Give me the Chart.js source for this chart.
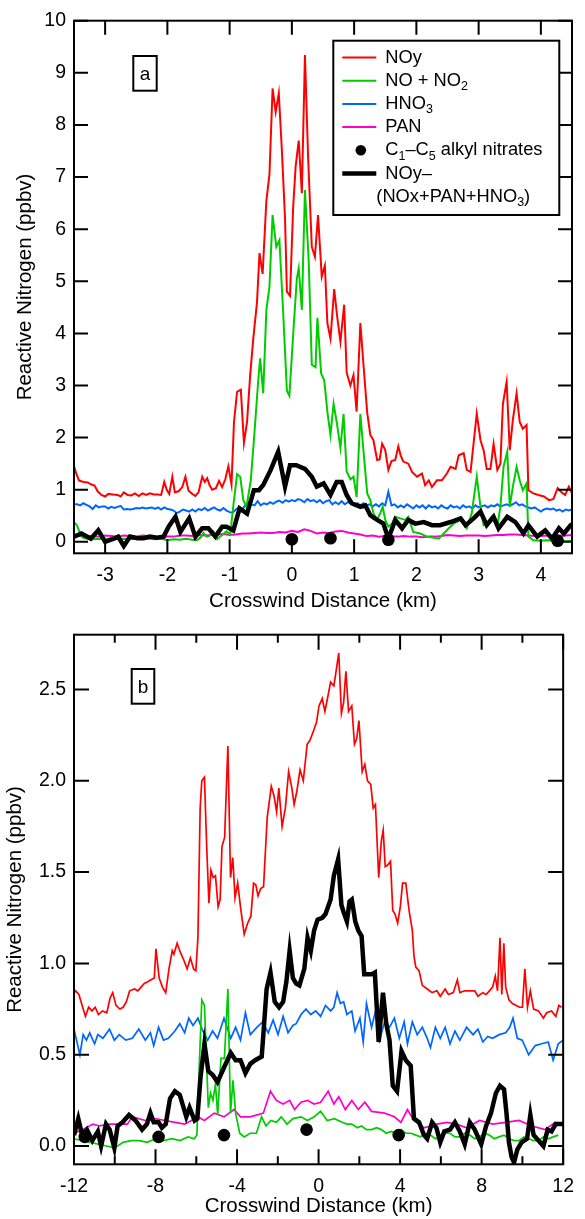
<!DOCTYPE html>
<html>
<head>
<meta charset="utf-8">
<script src="https://cdn.jsdelivr.net/npm/chart.js@4.4.1/dist/chart.umd.min.js"></script>
<style>
  body { margin: 0; background: #fff; }
  .panel { position: absolute; left: 0; width: 585px; }
</style>
</head>
<body>
<div class="panel" style="top:0;height:615px"><canvas id="panelA"></canvas></div>
<div class="panel" style="top:615px;height:604px"><canvas id="panelB"></canvas></div>
<script>
const FONT = "'Liberation Sans', Arial, sans-serif";
const RED = '#ff0000', GREEN = '#00cc00', BLUE = '#0066ff', PINK = '#ff00cc', BLACK = '#000000';

// ---------- panel a : crosswind distance (km), mixing ratio (ppbv) ----------
const aNOy = [[-3.50,1.45],[-3.46,1.30],[-3.42,1.18],[-3.35,1.15],[-3.28,1.14],[-3.22,1.10],[-3.17,1.08],[-3.12,0.97],[-3.06,0.90],[-3.00,0.87],[-2.95,0.92],[-2.88,0.91],[-2.80,0.90],[-2.75,0.87],[-2.70,0.95],[-2.64,0.90],[-2.58,0.89],[-2.52,0.93],[-2.46,0.88],[-2.40,0.93],[-2.34,0.90],[-2.28,0.93],[-2.22,0.91],[-2.15,0.91],[-2.10,0.90],[-2.05,1.15],[-2.01,1.00],[-1.97,0.92],[-1.92,1.25],[-1.88,0.95],[-1.82,0.97],[-1.76,1.05],[-1.71,1.25],[-1.66,0.98],[-1.60,0.92],[-1.55,0.88],[-1.50,0.95],[-1.44,1.25],[-1.40,1.15],[-1.36,1.22],[-1.32,1.08],[-1.28,1.00],[-1.22,1.03],[-1.17,1.17],[-1.12,1.05],[-1.07,1.20],[-1.02,1.45],[-0.97,1.10],[-0.93,2.30],[-0.88,2.88],[-0.82,2.92],[-0.77,1.90],[-0.72,2.30],[-0.67,3.20],[-0.62,3.90],[-0.56,4.60],[-0.52,5.54],[-0.47,5.14],[-0.41,6.54],[-0.36,7.05],[-0.31,8.70],[-0.26,8.25],[-0.21,8.61],[-0.16,7.50],[-0.11,6.20],[-0.08,4.80],[-0.03,4.72],[0.02,6.40],[0.06,7.20],[0.11,7.70],[0.16,6.69],[0.21,9.34],[0.26,7.40],[0.32,5.66],[0.37,5.47],[0.42,6.27],[0.48,5.09],[0.53,5.30],[0.57,4.20],[0.62,3.90],[0.68,4.85],[0.73,4.30],[0.78,3.84],[0.84,4.55],[0.88,3.25],[0.94,3.00],[0.99,3.20],[1.04,2.50],[1.10,4.20],[1.15,3.40],[1.21,2.48],[1.26,2.05],[1.31,1.95],[1.37,1.57],[1.41,1.58],[1.45,1.88],[1.50,1.76],[1.55,1.38],[1.60,1.55],[1.66,1.57],[1.71,1.83],[1.75,1.65],[1.79,1.54],[1.87,1.50],[1.93,1.34],[2.01,1.25],[2.09,1.31],[2.14,1.09],[2.20,1.18],[2.25,1.05],[2.33,1.18],[2.41,1.18],[2.49,1.31],[2.55,1.44],[2.63,1.40],[2.68,1.66],[2.76,1.70],[2.81,1.38],[2.87,1.34],[2.97,2.46],[3.03,1.95],[3.08,1.76],[3.13,1.40],[3.19,1.40],[3.24,1.88],[3.30,1.38],[3.35,1.50],[3.39,2.65],[3.45,3.07],[3.50,1.76],[3.55,2.34],[3.61,2.85],[3.66,2.30],[3.71,2.17],[3.77,2.24],[3.80,0.99],[3.88,0.93],[3.96,0.90],[4.05,0.87],[4.13,0.80],[4.20,0.82],[4.27,1.03],[4.33,0.95],[4.39,0.90],[4.45,1.06],[4.50,0.93]];

const aNOx = [[-3.50,0.37],[-3.46,0.33],[-3.42,0.22],[-3.38,0.10],[-3.33,0.07],[-3.28,0.06],[-3.20,0.05],[-3.10,0.06],[-3.00,0.05],[-2.90,0.07],[-2.80,0.05],[-2.70,0.06],[-2.60,0.05],[-2.50,0.06],[-2.40,0.07],[-2.30,0.06],[-2.20,0.05],[-2.10,0.06],[-2.00,0.03],[-1.90,0.05],[-1.80,0.04],[-1.70,0.06],[-1.60,0.04],[-1.53,0.03],[-1.47,0.08],[-1.42,0.17],[-1.37,0.10],[-1.32,0.12],[-1.26,0.20],[-1.20,0.05],[-1.13,0.12],[-1.05,0.20],[-0.99,0.14],[-0.94,0.70],[-0.88,1.30],[-0.83,1.25],[-0.78,0.80],[-0.73,0.67],[-0.66,1.18],[-0.61,1.95],[-0.54,3.10],[-0.51,3.52],[-0.46,2.85],[-0.41,4.45],[-0.36,4.89],[-0.31,6.27],[-0.25,5.66],[-0.20,5.79],[-0.14,4.40],[-0.08,2.90],[-0.04,2.80],[0.03,4.15],[0.08,5.05],[0.11,5.25],[0.16,4.45],[0.21,6.75],[0.27,5.40],[0.32,3.40],[0.38,3.35],[0.41,4.30],[0.47,3.23],[0.52,3.10],[0.57,2.50],[0.62,2.05],[0.67,2.65],[0.72,2.30],[0.78,1.80],[0.83,2.45],[0.88,1.35],[0.94,1.20],[0.99,1.25],[1.04,0.86],[1.10,2.45],[1.15,1.75],[1.21,0.93],[1.26,0.80],[1.31,0.55],[1.37,0.42],[1.42,0.55],[1.46,0.67],[1.50,0.42],[1.55,0.29],[1.61,0.35],[1.66,0.48],[1.74,0.45],[1.82,0.42],[1.87,0.48],[1.95,0.19],[2.06,0.16],[2.17,0.10],[2.28,0.08],[2.36,0.06],[2.44,0.16],[2.52,0.26],[2.60,0.35],[2.71,0.42],[2.81,0.26],[2.89,0.55],[2.97,1.25],[3.03,0.67],[3.08,0.32],[3.13,0.35],[3.21,0.48],[3.30,0.29],[3.35,0.67],[3.40,1.44],[3.46,1.73],[3.50,0.67],[3.55,1.06],[3.61,1.44],[3.66,1.18],[3.71,0.99],[3.77,1.12],[3.80,0.10],[3.88,0.03],[3.99,0.02],[4.10,0.03],[4.20,0.02],[4.30,0.03],[4.40,0.01],[4.50,0.02]];

const aHNO3 = [[-3.50,0.72],[-3.45,0.72],[-3.40,0.70],[-3.35,0.74],[-3.30,0.71],[-3.25,0.68],[-3.20,0.63],[-3.15,0.70],[-3.10,0.66],[-3.05,0.68],[-3.00,0.68],[-2.95,0.64],[-2.90,0.67],[-2.85,0.65],[-2.80,0.67],[-2.75,0.69],[-2.70,0.62],[-2.65,0.63],[-2.60,0.62],[-2.55,0.63],[-2.50,0.65],[-2.45,0.64],[-2.40,0.66],[-2.35,0.64],[-2.30,0.65],[-2.25,0.66],[-2.20,0.63],[-2.15,0.66],[-2.10,0.62],[-2.05,0.66],[-2.00,0.63],[-1.95,0.62],[-1.90,0.60],[-1.85,0.55],[-1.80,0.58],[-1.75,0.62],[-1.70,0.60],[-1.65,0.58],[-1.60,0.62],[-1.55,0.58],[-1.50,0.63],[-1.45,0.61],[-1.40,0.65],[-1.35,0.60],[-1.30,0.63],[-1.25,0.66],[-1.20,0.62],[-1.15,0.60],[-1.10,0.65],[-1.05,0.60],[-1.00,0.57],[-0.95,0.56],[-0.90,0.62],[-0.85,0.66],[-0.80,0.62],[-0.75,0.70],[-0.70,0.66],[-0.65,0.72],[-0.60,0.70],[-0.55,0.78],[-0.50,0.70],[-0.45,0.74],[-0.40,0.72],[-0.35,0.76],[-0.30,0.73],[-0.25,0.77],[-0.20,0.79],[-0.15,0.75],[-0.10,0.80],[-0.05,0.77],[0.00,0.80],[0.05,0.78],[0.10,0.82],[0.15,0.80],[0.20,0.76],[0.25,0.82],[0.30,0.78],[0.35,0.80],[0.40,0.76],[0.45,0.80],[0.50,0.74],[0.55,0.78],[0.60,0.80],[0.65,0.72],[0.70,0.76],[0.75,0.72],[0.80,0.78],[0.85,0.72],[0.90,0.76],[0.95,0.74],[1.00,0.70],[1.05,0.74],[1.10,0.70],[1.15,0.74],[1.20,0.70],[1.25,0.72],[1.30,0.68],[1.35,0.72],[1.40,0.68],[1.45,0.74],[1.50,0.70],[1.55,0.96],[1.60,0.70],[1.65,0.72],[1.70,0.66],[1.75,0.70],[1.80,0.66],[1.85,0.72],[1.90,0.68],[1.95,0.64],[2.00,0.70],[2.05,0.66],[2.10,0.70],[2.15,0.64],[2.20,0.70],[2.25,0.66],[2.30,0.68],[2.35,0.64],[2.40,0.70],[2.45,0.66],[2.50,0.64],[2.55,0.70],[2.60,0.66],[2.65,0.68],[2.70,0.64],[2.75,0.70],[2.80,0.66],[2.85,0.68],[2.90,0.64],[2.95,0.70],[3.00,0.66],[3.05,0.68],[3.10,0.70],[3.15,0.66],[3.20,0.70],[3.25,0.68],[3.30,0.72],[3.35,0.68],[3.40,0.70],[3.45,0.72],[3.50,0.70],[3.55,0.72],[3.60,0.76],[3.65,0.70],[3.70,0.72],[3.75,0.68],[3.80,0.66],[3.85,0.64],[3.90,0.66],[3.95,0.62],[4.00,0.58],[4.05,0.62],[4.10,0.64],[4.15,0.62],[4.20,0.64],[4.25,0.60],[4.30,0.62],[4.35,0.58],[4.40,0.62],[4.45,0.60],[4.50,0.62]];

const aPAN = [[-3.5,0.10],[-3.4,0.11],[-3.3,0.12],[-3.2,0.10],[-3.1,0.10],[-3.0,0.12],[-2.9,0.11],[-2.8,0.10],[-2.7,0.12],[-2.6,0.11],[-2.5,0.10],[-2.4,0.12],[-2.3,0.11],[-2.2,0.10],[-2.1,0.09],[-2.0,0.10],[-1.9,0.10],[-1.8,0.12],[-1.7,0.12],[-1.6,0.11],[-1.5,0.13],[-1.4,0.12],[-1.3,0.13],[-1.2,0.14],[-1.1,0.15],[-1.0,0.13],[-0.9,0.14],[-0.8,0.16],[-0.7,0.16],[-0.6,0.17],[-0.5,0.18],[-0.4,0.17],[-0.3,0.17],[-0.2,0.19],[-0.1,0.18],[0.0,0.21],[0.1,0.19],[0.2,0.24],[0.3,0.21],[0.4,0.16],[0.5,0.18],[0.6,0.17],[0.7,0.20],[0.8,0.21],[0.9,0.18],[1.0,0.16],[1.1,0.14],[1.2,0.11],[1.3,0.12],[1.4,0.10],[1.5,0.11],[1.6,0.10],[1.7,0.10],[1.8,0.11],[1.9,0.10],[2.0,0.10],[2.1,0.09],[2.2,0.10],[2.3,0.10],[2.4,0.11],[2.5,0.13],[2.6,0.12],[2.7,0.11],[2.8,0.12],[2.9,0.12],[3.0,0.12],[3.1,0.11],[3.2,0.12],[3.3,0.13],[3.4,0.13],[3.5,0.14],[3.6,0.14],[3.7,0.13],[3.8,0.12],[3.9,0.11],[4.0,0.11],[4.1,0.12],[4.2,0.11],[4.3,0.12],[4.4,0.12],[4.5,0.13]];

const aResid = [[-3.50,0.10],[-3.38,0.16],[-3.23,0.06],[-3.11,0.22],[-3.00,0.00],[-2.86,0.06],[-2.79,0.10],[-2.70,-0.08],[-2.60,0.10],[-2.48,0.07],[-2.38,0.07],[-2.28,0.10],[-2.17,0.08],[-2.06,0.10],[-1.98,0.29],[-1.87,0.48],[-1.79,0.19],[-1.65,0.45],[-1.55,0.10],[-1.44,0.26],[-1.34,0.26],[-1.23,0.10],[-1.12,0.29],[-1.05,0.29],[-0.94,0.22],[-0.84,0.64],[-0.72,0.54],[-0.61,0.99],[-0.53,0.99],[-0.46,1.09],[-0.34,1.38],[-0.22,1.73],[-0.11,1.06],[-0.03,1.47],[0.07,1.47],[0.21,1.40],[0.32,1.25],[0.40,1.06],[0.51,1.12],[0.62,0.90],[0.72,1.15],[0.80,1.15],[0.88,0.90],[0.96,0.74],[1.10,0.67],[1.18,0.70],[1.26,0.51],[1.37,0.42],[1.47,0.35],[1.55,0.06],[1.66,0.42],[1.77,0.26],[1.87,0.42],[1.98,0.35],[2.12,0.38],[2.25,0.32],[2.38,0.32],[2.55,0.38],[2.71,0.45],[2.79,0.32],[2.92,0.45],[3.03,0.58],[3.13,0.32],[3.24,0.48],[3.32,0.26],[3.46,0.48],[3.59,0.38],[3.72,0.16],[3.80,0.32],[3.94,0.10],[4.07,0.22],[4.18,0.06],[4.29,0.26],[4.37,0.16],[4.48,0.32],[4.50,0.34]];

const aAlkyl = [[0.00,0.05],[0.62,0.07],[1.55,0.04],[4.27,0.02]];

const aXTicks = [-3, -2, -1, 0, 1, 2, 3, 4];
const aYTicks = [0, 1, 2, 3, 4, 5, 6, 7, 8, 9, 10];

// ---------- panel b ----------
const bNOy = [[-12.00,0.84],[-11.92,0.85],[-11.76,0.83],[-11.60,0.77],[-11.44,0.71],[-11.28,0.76],[-11.12,0.74],[-10.96,0.76],[-10.80,0.72],[-10.60,0.74],[-10.39,0.73],[-10.23,0.81],[-10.10,0.84],[-9.94,0.77],[-9.75,0.75],[-9.59,0.76],[-9.43,0.79],[-9.27,0.85],[-9.03,0.86],[-8.87,0.85],[-8.71,0.87],[-8.55,0.89],[-8.38,0.90],[-8.22,0.91],[-8.06,0.92],[-7.98,1.08],[-7.82,0.92],[-7.66,0.87],[-7.50,0.84],[-7.34,0.97],[-7.18,1.07],[-7.10,1.05],[-6.94,1.11],[-6.78,1.06],[-6.62,1.02],[-6.45,0.97],[-6.29,1.03],[-6.13,0.97],[-6.02,0.96],[-5.92,1.14],[-5.81,1.85],[-5.73,2.00],[-5.60,2.02],[-5.49,1.64],[-5.38,1.33],[-5.28,1.51],[-5.17,1.47],[-5.06,1.48],[-4.93,1.31],[-4.83,1.35],[-4.74,1.64],[-4.61,1.69],[-4.45,2.19],[-4.32,1.47],[-4.21,1.58],[-4.10,1.36],[-3.97,1.44],[-3.81,1.29],[-3.65,1.16],[-3.48,1.22],[-3.32,1.26],[-3.19,1.44],[-3.08,1.43],[-2.97,1.37],[-2.84,1.41],[-2.70,1.42],[-2.52,1.80],[-2.32,1.97],[-2.19,1.92],[-2.06,1.83],[-1.95,1.96],[-1.79,1.75],[-1.63,1.85],[-1.47,2.05],[-1.31,1.96],[-1.20,1.87],[-1.07,1.94],[-0.91,2.06],[-0.75,2.00],[-0.56,2.20],[-0.43,2.22],[-0.26,2.27],[-0.10,2.32],[0.02,2.41],[0.18,2.45],[0.31,2.38],[0.47,2.47],[0.59,2.54],[0.75,2.52],[0.86,2.60],[0.99,2.70],[1.12,2.37],[1.23,2.43],[1.34,2.60],[1.47,2.38],[1.63,2.41],[1.76,2.20],[1.87,2.23],[1.98,2.33],[2.14,2.05],[2.27,2.09],[2.40,2.00],[2.56,1.98],[2.68,1.85],[2.79,1.87],[2.95,1.47],[3.08,1.67],[3.17,1.73],[3.27,1.53],[3.40,1.54],[3.53,1.56],[3.64,1.29],[3.75,1.27],[3.88,1.22],[4.01,1.31],[4.12,1.44],[4.28,1.44],[4.44,1.29],[4.60,1.18],[4.68,1.04],[4.77,0.98],[4.93,0.96],[5.09,0.88],[5.33,0.86],[5.57,0.84],[5.81,0.85],[5.97,0.82],[6.21,0.86],[6.37,0.83],[6.61,0.84],[6.81,0.91],[6.93,0.84],[7.17,0.85],[7.42,0.85],[7.66,0.85],[7.82,0.82],[8.06,0.84],[8.22,0.83],[8.38,0.85],[8.54,0.87],[8.67,0.93],[8.78,0.85],[8.90,1.14],[8.99,0.83],[9.09,1.11],[9.18,0.87],[9.34,0.80],[9.51,0.78],[9.70,0.77],[9.86,0.76],[10.00,0.76],[10.12,0.97],[10.25,0.76],[10.39,0.85],[10.55,0.75],[10.79,0.74],[11.03,0.70],[11.19,0.73],[11.43,0.74],[11.64,0.71],[11.79,0.77],[11.92,0.76]];

const bNOx = [[-12.0,0.04],[-11.6,0.03],[-11.2,0.02],[-10.8,0.01],[-10.4,0.00],[-10.0,-0.01],[-9.6,0.02],[-9.2,0.03],[-8.8,0.03],[-8.4,0.02],[-8.0,0.04],[-7.6,0.03],[-7.2,0.04],[-6.8,0.03],[-6.4,0.05],[-6.1,0.04],[-5.97,0.06],[-5.85,0.45],[-5.73,0.80],[-5.60,0.77],[-5.41,0.21],[-5.30,0.29],[-5.18,0.25],[-5.06,0.34],[-4.95,0.17],[-4.79,0.48],[-4.62,0.48],[-4.45,0.86],[-4.32,0.18],[-4.20,0.36],[-4.07,0.18],[-3.87,0.07],[-3.65,0.05],[-3.36,0.07],[-3.05,0.07],[-2.80,0.16],[-2.58,0.11],[-2.34,0.14],[-2.07,0.13],[-1.83,0.16],[-1.55,0.12],[-1.26,0.15],[-0.86,0.16],[-0.55,0.14],[-0.22,0.16],[0.10,0.19],[0.42,0.14],[0.78,0.15],[1.15,0.13],[1.40,0.12],[1.63,0.12],[1.90,0.10],[2.11,0.11],[2.35,0.09],[2.60,0.09],[2.85,0.10],[3.08,0.09],[3.32,0.07],[3.56,0.08],[3.80,0.07],[4.04,0.09],[4.28,0.07],[4.53,0.07],[4.77,0.06],[5.00,0.05],[5.25,0.07],[5.49,0.06],[5.73,0.04],[5.97,0.05],[6.21,0.07],[6.45,0.07],[6.69,0.05],[6.93,0.05],[7.17,0.07],[7.42,0.06],[7.66,0.04],[7.90,0.05],[8.14,0.07],[8.38,0.06],[8.62,0.04],[8.86,0.05],[9.10,0.06],[9.35,0.04],[9.59,0.03],[9.83,0.03],[10.07,0.05],[10.31,0.04],[10.55,0.03],[10.79,0.03],[11.03,0.05],[11.27,0.04],[11.51,0.05],[11.76,0.06]];

const bHNO3 = [[-12.00,0.64],[-11.71,0.50],[-11.55,0.61],[-11.39,0.58],[-11.23,0.62],[-10.99,0.56],[-10.83,0.61],[-10.58,0.59],[-10.26,0.64],[-10.02,0.58],[-9.78,0.61],[-9.46,0.58],[-9.14,0.59],[-8.82,0.64],[-8.50,0.58],[-8.25,0.62],[-8.09,0.55],[-7.85,0.65],[-7.61,0.58],[-7.37,0.59],[-7.05,0.63],[-6.81,0.67],[-6.57,0.62],[-6.37,0.70],[-6.16,0.66],[-5.92,0.70],[-5.68,0.63],[-5.44,0.58],[-5.20,0.63],[-4.96,0.59],[-4.64,0.70],[-4.31,0.59],[-4.07,0.65],[-3.83,0.58],[-3.59,0.73],[-3.35,0.61],[-3.03,0.65],[-2.74,0.68],[-2.47,0.62],[-2.23,0.69],[-1.99,0.61],[-1.74,0.71],[-1.50,0.62],[-1.26,0.66],[-1.10,0.67],[-0.86,0.72],[-0.62,0.75],[-0.38,0.72],[-0.14,0.74],[0.10,0.71],[0.34,0.77],[0.59,0.74],[0.75,0.76],[0.91,0.84],[1.07,0.78],[1.23,0.79],[1.39,0.72],[1.63,0.74],[1.79,0.63],[2.03,0.70],[2.19,0.57],[2.35,0.78],[2.60,0.65],[2.84,0.76],[2.99,0.58],[3.24,0.68],[3.48,0.65],[3.72,0.70],[3.96,0.59],[4.20,0.68],[4.36,0.56],[4.60,0.68],[4.84,0.61],[5.09,0.65],[5.33,0.59],[5.49,0.54],[5.73,0.65],[5.97,0.59],[6.21,0.65],[6.45,0.56],[6.69,0.63],[6.93,0.58],[7.26,0.65],[7.58,0.61],[7.82,0.64],[8.06,0.57],[8.30,0.60],[8.54,0.59],[8.86,0.61],[9.18,0.62],[9.38,0.65],[9.54,0.70],[9.75,0.59],[9.99,0.58],[10.31,0.50],[10.63,0.55],[10.95,0.56],[11.27,0.57],[11.51,0.47],[11.76,0.56],[12.00,0.58]];

const bPAN = [[-12.00,0.07],[-11.55,0.09],[-11.07,0.12],[-10.75,0.11],[-10.26,0.12],[-9.78,0.12],[-9.38,0.12],[-9.14,0.16],[-8.50,0.14],[-8.01,0.15],[-7.53,0.14],[-7.05,0.13],[-6.57,0.12],[-6.24,0.14],[-5.92,0.16],[-5.60,0.14],[-5.12,0.18],[-4.64,0.16],[-4.15,0.20],[-3.83,0.16],[-3.35,0.16],[-2.71,0.18],[-2.36,0.30],[-2.07,0.25],[-1.74,0.23],[-1.42,0.25],[-1.18,0.20],[-0.86,0.24],[-0.54,0.25],[-0.22,0.23],[0.10,0.24],[0.47,0.30],[0.75,0.23],[0.99,0.27],[1.31,0.20],[1.63,0.25],[1.95,0.20],[2.27,0.24],[2.60,0.19],[3.24,0.18],[3.72,0.16],[4.04,0.13],[4.36,0.20],[4.68,0.14],[5.17,0.10],[5.81,0.12],[6.29,0.13],[6.77,0.12],[7.26,0.10],[7.90,0.14],[8.54,0.12],[9.18,0.13],[9.83,0.14],[10.47,0.11],[11.11,0.09],[11.60,0.13],[12.00,0.12]];

const bResid = [[-12.00,0.06],[-11.79,0.15],[-11.60,0.06],[-11.37,0.09],[-11.10,0.03],[-10.83,0.08],[-10.67,0.00],[-10.43,0.12],[-10.25,0.09],[-10.02,-0.01],[-9.86,0.11],[-9.62,0.13],[-9.30,0.17],[-8.98,0.14],[-8.66,0.09],[-8.42,0.12],[-8.25,0.18],[-8.09,0.13],[-7.85,0.13],[-7.69,0.10],[-7.50,0.12],[-7.29,0.26],[-7.05,0.30],[-6.81,0.28],[-6.65,0.22],[-6.49,0.16],[-6.33,0.21],[-6.08,0.14],[-5.95,0.15],[-5.79,0.38],[-5.60,0.56],[-5.41,0.41],[-5.20,0.39],[-4.96,0.35],[-4.64,0.43],[-4.31,0.51],[-4.07,0.47],[-3.83,0.47],[-3.59,0.40],[-3.35,0.45],[-3.11,0.47],[-2.79,0.49],[-2.71,0.61],[-2.55,0.86],[-2.36,0.95],[-2.15,0.79],[-1.94,0.76],[-1.74,0.79],[-1.58,0.90],[-1.42,1.07],[-1.26,0.92],[-1.10,0.89],[-0.94,0.88],[-0.70,0.97],[-0.54,1.14],[-0.38,1.07],[-0.22,1.18],[-0.05,1.24],[0.18,1.25],[0.34,1.27],[0.59,1.35],[0.75,1.48],[0.96,1.57],[1.12,1.32],[1.23,1.28],[1.39,1.23],[1.52,1.34],[1.63,1.35],[1.80,1.23],[1.95,1.18],[2.11,1.15],[2.24,0.94],[2.44,0.94],[2.60,0.94],[2.76,0.95],[2.95,0.57],[3.16,0.84],[3.32,0.67],[3.48,0.58],[3.64,0.33],[3.85,0.30],[4.07,0.52],[4.28,0.47],[4.52,0.44],[4.68,0.15],[4.93,0.13],[5.17,0.06],[5.33,0.04],[5.57,0.13],[5.78,0.10],[5.97,0.02],[6.17,0.08],[6.45,0.09],[6.69,0.13],[6.93,0.08],[7.17,0.01],[7.42,0.13],[7.66,0.09],[7.98,0.01],[8.22,0.11],[8.46,0.18],[8.70,0.29],[8.90,0.33],[9.10,0.31],[9.22,0.18],[9.34,0.02],[9.47,-0.06],[9.59,-0.09],[9.75,-0.02],[9.96,0.02],[10.23,0.04],[10.39,0.17],[10.55,0.06],[10.79,0.03],[11.03,0.00],[11.24,0.09],[11.43,0.08],[11.63,0.12],[11.84,0.12],[12.00,0.12]];

const bAlkyl = [[-11.47,0.05],[-7.85,0.05],[-4.64,0.06],[-0.59,0.09],[3.93,0.06]];

const bXTicks = [-12, -8, -4, 0, 4, 8, 12];
const bXMinor = [-10, -6, -2, 2, 6, 10];
const bYTicks = [0, 0.5, 1, 1.5, 2, 2.5];

// legend entries: [text, isSubscript]
const legendRows = [
  { mark: 'line', color: RED, width: 2, parts: [['NOy']] },
  { mark: 'line', color: GREEN, width: 2, parts: [['NO + NO'], ['2', true]] },
  { mark: 'line', color: BLUE, width: 2, parts: [['HNO'], ['3', true]] },
  { mark: 'line', color: PINK, width: 2, parts: [['PAN']] },
  { mark: 'dot', color: BLACK, parts: [['C'], ['1', true], ['\u2013C'], ['5', true], [' alkyl nitrates']] },
  { mark: 'line', color: BLACK, width: 4.5, parts: [['NOy\u2013']] },
  { mark: 'none', indent: true, parts: [['(NOx+PAN+HNO'], ['3', true], [')']] }
];

const toXY = arr => arr.map(([x, y]) => ({ x, y }));

function lineSet(label, data, color, width, order) {
  return {
    label, data: toXY(data), borderColor: color, backgroundColor: color,
    borderWidth: width, pointRadius: 0, pointHoverRadius: 0, tension: 0, order
  };
}

function dotSet(data) {
  return {
    label: 'C1-C5 alkyl nitrates', data: toXY(data), showLine: false,
    pointRadius: 6.3, pointBackgroundColor: BLACK, pointBorderWidth: 0, order: 0
  };
}

// frame + inward tick marks + panel letter
const framePlugin = {
  id: 'frame',
  afterDraw(chart, args, o) {
    const { ctx, chartArea: a, scales: { x, y } } = chart;
    ctx.save();
    ctx.strokeStyle = BLACK;
    ctx.lineWidth = 2;
    ctx.beginPath();
    const seg = (x1, y1, x2, y2) => { ctx.moveTo(x1, y1); ctx.lineTo(x2, y2); };
    o.xMajor.forEach(v => {
      const p = x.getPixelForValue(v);
      seg(p, a.bottom, p, a.bottom - o.major);
      seg(p, a.top, p, a.top + o.major);
    });
    (o.xMinor || []).forEach(v => {
      const p = x.getPixelForValue(v);
      seg(p, a.bottom, p, a.bottom - o.minor);
      seg(p, a.top, p, a.top + o.minor);
    });
    o.yMajor.forEach(v => {
      const p = y.getPixelForValue(v);
      seg(a.left, p, a.left + o.major, p);
      seg(a.right, p, a.right - o.major, p);
    });
    ctx.stroke();
    ctx.strokeRect(a.left, a.top, a.right - a.left, a.bottom - a.top);

    // panel letter in a box
    const L = o.letter;
    ctx.fillStyle = '#fff';
    ctx.fillRect(L.x, L.y, L.w, L.h);
    ctx.strokeRect(L.x, L.y, L.w, L.h);
    ctx.fillStyle = BLACK;
    ctx.font = '19px ' + FONT;
    ctx.textAlign = 'center';
    ctx.textBaseline = 'middle';
    ctx.fillText(L.text, L.x + L.w / 2, L.y + L.h / 2 + 1);
    ctx.restore();
  }
};

// legend box with subscripts
const legendPlugin = {
  id: 'richLegend',
  afterDraw(chart, args, o) {
    if (!o.rows) return;
    const ctx = chart.ctx;
    ctx.save();
    ctx.fillStyle = '#fff';
    ctx.fillRect(o.x, o.y, o.w, o.h);
    ctx.strokeStyle = BLACK;
    ctx.lineWidth = 2;
    ctx.strokeRect(o.x, o.y, o.w, o.h);
    ctx.textBaseline = 'middle';
    ctx.textAlign = 'left';
    o.rows.forEach((row, i) => {
      const cy = o.y + o.first + i * o.step;
      if (row.mark === 'line') {
        ctx.strokeStyle = row.color;
        ctx.lineWidth = row.width;
        ctx.beginPath();
        ctx.moveTo(o.x + 9, cy);
        ctx.lineTo(o.x + 43, cy);
        ctx.stroke();
      } else if (row.mark === 'dot') {
        ctx.fillStyle = row.color;
        ctx.beginPath();
        ctx.arc(o.x + 27.5, cy, 5.3, 0, Math.PI * 2);
        ctx.fill();
      }
      let tx = o.x + (row.indent ? 43 : 52);
      ctx.fillStyle = BLACK;
      row.parts.forEach(([t, sub]) => {
        ctx.font = (sub ? '12.5px ' : '18.3px ') + FONT;
        ctx.fillText(t, tx, sub ? cy + 6 : cy);
        tx += ctx.measureText(t).width;
      });
    });
    ctx.restore();
  }
};

function makeChart(id, cfg) {
  const tickFont = { family: FONT, size: 19.5 };
  const titleFont = { family: FONT, size: 20.5 };
  return new Chart(document.getElementById(id), {
    type: 'line',
    data: { datasets: cfg.datasets },
    options: {
      responsive: true,
      maintainAspectRatio: false,
      animation: false,
      devicePixelRatio: 1,
      layout: { padding: { left: 0, right: 13, top: cfg.top, bottom: 0 } },
      plugins: {
        legend: { display: false },
        tooltip: { enabled: false },
        frame: cfg.frame,
        richLegend: cfg.legend || {}
      },
      scales: {
        x: {
          type: 'linear',
          min: cfg.xMin, max: cfg.xMax,
          afterBuildTicks: s => { s.ticks = cfg.xTicks.map(value => ({ value })); },
          afterFit: s => { s.height = cfg.xHeight; },
          ticks: { font: tickFont, color: BLACK, padding: 11, maxRotation: 0, autoSkip: false, callback: v => String(v) },
          grid: { display: false, drawTicks: false },
          border: { display: false },
          title: { display: true, text: 'Crosswind Distance (km)', font: titleFont, color: BLACK, padding: { top: 0, bottom: cfg.xTitlePad } }
        },
        y: {
          type: 'linear',
          min: cfg.yMin, max: cfg.yMax,
          afterBuildTicks: s => { s.ticks = cfg.yTicks.map(value => ({ value })); },
          afterFit: s => { s.width = 74; },
          ticks: { font: tickFont, color: BLACK, padding: 8, autoSkip: false, callback: cfg.yFormat },
          grid: { display: false, drawTicks: false },
          border: { display: false },
          title: { display: true, text: 'Reactive Nitrogen (ppbv)', font: titleFont, color: BLACK, padding: { top: cfg.yTitlePad, bottom: 0 } }
        }
      }
    },
    plugins: [framePlugin, legendPlugin]
  });
}

makeChart('panelA', {
  datasets: [
    dotSet(aAlkyl),
    lineSet('NOy-(NOx+PAN+HNO3)', aResid, BLACK, 4.5, 1),
    lineSet('NOy', aNOy, RED, 2, 2),
    lineSet('NO + NO2', aNOx, GREEN, 2, 3),
    lineSet('HNO3', aHNO3, BLUE, 2, 4),
    lineSet('PAN', aPAN, PINK, 2, 5)
  ],
  top: 20.7, xHeight: 61.7, xTitlePad: 1, yTitlePad: 13,
  xMin: -3.5, xMax: 4.5, yMin: -0.22, yMax: 10,
  xTicks: aXTicks, yTicks: aYTicks, yFormat: v => String(v),
  frame: { xMajor: aXTicks, yMajor: aYTicks, major: 14, minor: 8, letter: { text: 'a', x: 133.3, y: 56, w: 23.4, h: 34.7 } },
  legend: { rows: legendRows, x: 333.3, y: 40.7, w: 226, h: 174.3, first: 16.8, step: 23.2 }
});

makeChart('panelB', {
  datasets: [
    dotSet(bAlkyl),
    lineSet('NOy-(NOx+PAN+HNO3)', bResid, BLACK, 4.5, 1),
    lineSet('NOy', bNOy, RED, 1.7, 2),
    lineSet('NO + NO2', bNOx, GREEN, 1.7, 3),
    lineSet('HNO3', bHNO3, BLUE, 1.7, 4),
    lineSet('PAN', bPAN, PINK, 1.7, 5)
  ],
  top: 15.7, xHeight: 54.7, xTitlePad: 0, yTitlePad: 3,
  xMin: -12, xMax: 12, yMin: -0.1, yMax: 2.8,
  xTicks: bXTicks, yTicks: bYTicks, yFormat: v => v.toFixed(1),
  frame: { xMajor: bXTicks, xMinor: bXMinor, yMajor: bYTicks, major: 15, minor: 8, letter: { text: 'b', x: 131.7, y: 54, w: 22.6, h: 34.7 } }
});
</script>
</body>
</html>
